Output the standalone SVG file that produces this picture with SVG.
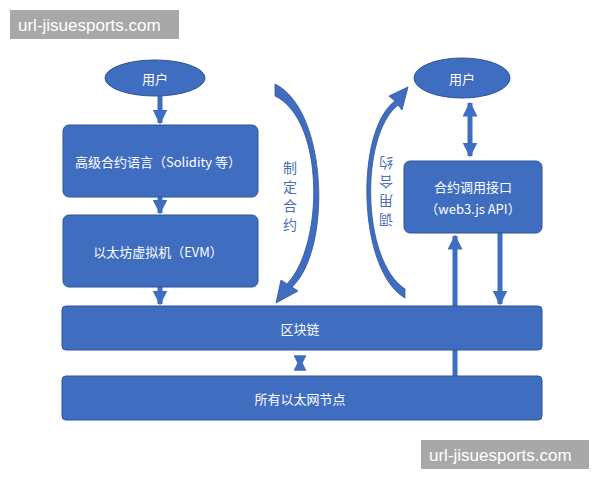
<svg xmlns="http://www.w3.org/2000/svg" width="600" height="480" viewBox="0 0 600 480">
<style>
.n{fill:#3f6dc0;stroke:#2f5597;stroke-width:1}
.t{fill:#fff;font-family:"Noto Sans CJK SC","Liberation Sans",sans-serif;font-size:13px;text-anchor:middle;dominant-baseline:central}
.c{fill:#3f6dc0;stroke:#2f5597;stroke-width:0.8}
.l{stroke:#3f6dc0;stroke-width:5;fill:none}
.v{fill:#4a6fb5;font-family:"Noto Sans CJK SC",sans-serif;font-size:14px;text-anchor:middle;dominant-baseline:central}
.w{fill:#fff;font-family:"Liberation Sans",sans-serif;font-size:17px;dominant-baseline:central}
</style>
<defs>
<marker id="a" viewBox="0 0 10 10" refX="9" refY="5" markerWidth="3" markerHeight="3" orient="auto-start-reverse"><path d="M0,0L10,5L0,10Z" fill="#3f6dc0"/></marker>
<marker id="b" viewBox="0 0 10 10" refX="9" refY="5" markerWidth="2.6" markerHeight="2.6" orient="auto-start-reverse"><path d="M0,0L10,5L0,10Z" fill="#3f6dc0"/></marker>
</defs>
<rect width="600" height="480" fill="#fff"/>
<g id="connectors">
<line class="l" x1="160" y1="96" x2="160" y2="123" marker-end="url(#a)"/>
<line class="l" x1="160" y1="197" x2="160" y2="213" marker-end="url(#a)"/>
<line class="l" x1="160" y1="287" x2="160" y2="304" marker-end="url(#a)"/>
<line class="l" x1="470" y1="103" x2="470" y2="156" marker-start="url(#a)" marker-end="url(#a)"/>
<line class="l" x1="455" y1="376" x2="455" y2="236" marker-end="url(#a)"/>
<line class="l" x1="500" y1="233" x2="500" y2="304" marker-end="url(#a)"/>
<line class="l" x1="300" y1="359" x2="300" y2="367" stroke-width="4" marker-start="url(#b)" marker-end="url(#b)"/>
<path class="c" d="M275,84 C328,110 332,250 292,287 L298,291 L276,303 L281,280 L287,284 C324,245 325,120 275,96 Z"/>
<path class="c" d="M405,298 C357,270 355,130 395,101 L389,96 L408,87 L402,110 L398,105 C360,135 361,260 405,289 Z"/>
</g>
<g id="user1"><ellipse class="n" cx="155" cy="78" rx="50" ry="18"/><text class="t" x="155" y="78">用户</text></g>
<g id="user2"><ellipse class="n" cx="462" cy="78" rx="48" ry="20"/><text class="t" x="462" y="78">用户</text></g>
<g id="hll"><rect class="n" x="63" y="125" width="195" height="72" rx="6"/><text class="t" x="158" y="161">高级合约语言（Solidity 等）</text></g>
<g id="evm"><rect class="n" x="63" y="215" width="195" height="72" rx="6"/><text class="t" x="158" y="251">以太坊虚拟机（EVM）</text></g>
<g id="api"><rect class="n" x="404" y="161" width="138" height="72" rx="6"/><text class="t" x="473" y="186">合约调用接口</text><text class="t" x="473" y="208">（web3.js API）</text></g>
<g id="chain"><rect class="n" x="62" y="306" width="480" height="44" rx="4"/><text class="t" x="300" y="328">区块链</text></g>
<g id="nodes"><rect class="n" x="62" y="376" width="480" height="44" rx="4"/><text class="t" x="300" y="398">所有以太网节点</text></g>
<g id="labels">
<text class="v" x="290" y="167">制</text><text class="v" x="290" y="186">定</text><text class="v" x="290" y="205">合</text><text class="v" x="290" y="224">约</text>
<g transform="rotate(180 386 192)"><text class="v" x="386" y="163">调</text><text class="v" x="386" y="182">用</text><text class="v" x="386" y="201">合</text><text class="v" x="386" y="220">约</text></g>
</g>
<g id="wm">
<rect x="10" y="10" width="169" height="29" fill="#a8a8a8"/><text class="w" x="18" y="25">url-jisuesports.com</text>
<rect x="421" y="440" width="168" height="29" fill="#a8a8a8"/><text class="w" x="429" y="455">url-jisuesports.com</text>
</g>
</svg>
